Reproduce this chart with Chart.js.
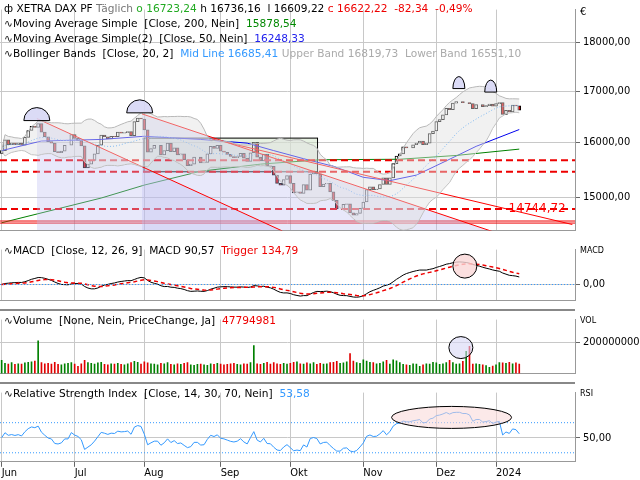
<!DOCTYPE html>
<html><head><meta charset="utf-8">
<script src="https://cdn.jsdelivr.net/npm/chart.js@4"></script>
<style>
body{margin:0;background:#fff;font-family:"DejaVu Sans",sans-serif;}
.pane{position:absolute;left:0;width:640px;}
.leg{position:absolute;left:4px;font-size:10.6px;line-height:15px;white-space:nowrap;color:#000;}
.tag{position:absolute;left:580px;font-size:8px;color:#000;}
.sep{position:absolute;left:0;width:575px;height:2px;background:#888;}
</style></head><body>
<div class="pane" style="top:0;height:240px"><canvas id="cPrice" width="640" height="240"></canvas></div>
<div class="pane" style="top:240px;height:70px"><canvas id="cMacd" width="640" height="70"></canvas></div>
<div class="pane" style="top:310px;height:73px"><canvas id="cVol" width="640" height="73"></canvas></div>
<div class="pane" style="top:383px;height:97px"><canvas id="cRsi" width="640" height="97"></canvas></div>
<div class="sep" style="top:309px"></div><div class="sep" style="top:382px"></div>
<div class="leg" style="top:1px">ф XETRA DAX PF <span style="color:#777">Täglich</span> <span style="color:#2a2">o 16723,24</span> h 16736,16 &nbsp;l 16609,22 <span style="color:#e00">c 16622,22 &nbsp;-82,34 &nbsp;-0,49%</span><br>
∿Moving Average Simple &nbsp;[Close, 200, Nein] &nbsp;<span style="color:#080">15878,54</span><br>
∿Moving Average Simple(2) &nbsp;[Close, 50, Nein] &nbsp;<span style="color:#22e">16248,33</span><br>
∿Bollinger Bands &nbsp;[Close, 20, 2] &nbsp;<span style="color:#39f">Mid Line 16685,41</span> <span style="color:#aaa">Upper Band 16819,73 &nbsp;Lower Band 16551,10</span></div>
<div class="leg" style="top:243px">∿MACD &nbsp;[Close, 12, 26, 9] &nbsp;MACD 90,57 &nbsp;<span style="color:#e00">Trigger 134,79</span></div>
<div class="leg" style="top:313px">∿Volume &nbsp;[None, Nein, PriceChange, Ja] &nbsp;<span style="color:#e00">47794981</span></div>
<div class="leg" style="top:386px">∿Relative Strength Index &nbsp;[Close, 14, 30, 70, Nein] &nbsp;<span style="color:#39f">53,58</span></div>
<div class="tag" style="top:6px;font-size:10px">€</div>
<div class="tag" style="top:246px">MACD</div>
<div class="tag" style="top:316px">VOL</div>
<div class="tag" style="top:389px">RSI</div>
<script>
// Tageskurse Jun 2023 .. Jan 2024 (Schlusskurse)
const closes = [
  15850,16050,15960,15990,15960,15990,15950,16100,16230,16310,16290,16360,16200,16110,16020,15990,15830,15810,15840,15950,15950,16150,
  16080,16040,15940,15530,15600,15670,15790,15950,16140,16110,16070,16120,16110,16200,16180,16190,16210,16130,16400,16470,16450,
  16240,15820,15890,15950,15950,15770,15850,15990,15830,15900,15770,15790,15680,15570,15600,15730,15730,15620,15630,15790,15930,15890,15950,
  15840,15820,15780,15740,15720,15740,15800,15710,15650,15810,16000,15730,15660,15780,15570,15560,15400,15250,15220,15320,15390,
  15250,15080,15100,15070,15230,15130,15420,15460,15420,15190,15240,15250,15100,14950,14800,14800,14880,14890,14730,14690,14720,14810,
  14920,15140,15190,15140,15150,15230,15350,15230,15350,15610,15750,15790,15920,15900,15900,15960,15990,16030,15960,15990,16170,16220,
  16400,16440,16530,16660,16630,16760,16790,16790,16770,16770,16750,16650,16730,16730,16690,16710,16740,16700,16750,
  16770,16540,16620,16590,16720,16705,16622
];
const firstOpen = 15800;
// Volumen in Mio.
const volumes = [
  85,65,60,70,58,62,60,68,72,75,80,210,70,62,65,60,72,58,55,62,65,70,
  60,45,62,85,70,65,60,68,72,58,55,62,60,65,58,55,62,70,78,72,60,
  75,68,62,60,55,65,62,70,58,55,62,58,65,70,55,52,58,60,55,52,62,58,65,
  60,55,58,62,65,58,55,62,60,70,180,62,58,65,72,60,70,62,58,65,60,
  65,72,75,62,60,68,62,70,58,65,60,62,70,72,78,65,68,75,128,80,70,65,
  88,80,72,70,62,65,75,85,60,88,82,70,58,55,52,62,60,45,55,62,60,72,
  68,58,62,70,85,70,60,62,78,143,175,60,62,58,55,50,40,48,55,
  70,68,65,72,62,68,60
];
const monthIdx = [0, 22, 43, 66, 87, 109, 131, 149];
const monthLabels = ['Jun', 'Jul', 'Aug', 'Sep', 'Okt', 'Nov', 'Dez', '2024'];
const priceTicks = [15000, 16000, 17000, 18000];
// SMA-Stützpunkte [Index], [Wert]
const sma50Idx = [0, 12, 30, 43, 60, 74, 82, 91, 100, 109, 117, 125, 134, 143, 156];
const sma50Val = [15850, 16030, 16060, 16120, 16060, 15990, 15850, 15700, 15560, 15360, 15300, 15400, 15660, 15930, 16248];
const sma200Idx = [0, 30, 43, 60, 78, 96, 120, 137, 156];
const sma200Val = [14560, 14990, 15220, 15470, 15600, 15680, 15690, 15760, 15878];
const hLevels = [15670, 15460, 14800];
const hSolid = [14590, 14555];
// Trendlinien [x0, y0, x1, y1]
const trendLines = [[10.6, 16460, 84.6, 14420], [42.3, 16550, 148, 14410], [63.4, 16070, 172, 14530]];
const box = [42.9, 16085, 95.2, 15460];
const peakIdx = [10.6, 41.6, 137.8, 147.4];
const peakVal = [16420, 16570, 17050, 16980];

const X_MIN = -0.5, X_MAX = 172.8;
const opens = closes.map((c, i) => i ? closes[i - 1] : firstOpen);

// Indikatoren
const bbMid = [], bbUp = [], bbLo = [];
closes.forEach((c, i) => {
  const w = closes.slice(Math.max(0, i - 19), i + 1);
  const m = w.reduce((a, b) => a + b, 0) / w.length;
  const sd = Math.sqrt(w.reduce((a, b) => a + (b - m) ** 2, 0) / w.length);
  bbMid.push({ x: i, y: m }); bbUp.push({ x: i, y: m + 2 * sd }); bbLo.push({ x: i, y: m - 2 * sd });
});
function ema(arr, n) { const k = 2 / (n + 1); let e = arr[0]; return arr.map(v => (e = v * k + e * (1 - k))); }
const e12 = ema(closes, 12), e26 = ema(closes, 26);
const macd = closes.map((_, i) => e12[i] - e26[i]);
const trig = ema(macd, 9);
const rsi = [];
let ag = 50, al = 50;
closes.forEach((c, i) => {
  if (i) {
    const d = c - closes[i - 1];
    ag = (ag * 13 + Math.max(d, 0)) / 14; al = (al * 13 + Math.max(-d, 0)) / 14;
  }
  rsi.push(100 - 100 / (1 + ag / al));
});

const tickFont = { size: 11, family: 'DejaVu Sans Condensed' };
const grid = { color: '#c8c8c8', borderDash: [1, 3], drawTicks: true, tickLength: 5, tickColor: '#666' };
const fmt = v => v.toLocaleString('de-DE', { minimumFractionDigits: 2, maximumFractionDigits: 2 }).replace(/\./g, '');
function xScale(show) {
  return {
    type: 'linear', min: X_MIN, max: X_MAX, offset: false,
    afterBuildTicks: s => { s.ticks = monthIdx.map(v => ({ value: v })); },
    grid: { ...grid, drawTicks: show, offset: false },
    border: { display: true, color: '#999' },
    ticks: { display: show, autoSkip: false, maxRotation: 0, align: 'start', padding: 0, font: tickFont, color: '#000',
      callback: v => monthLabels[monthIdx.indexOf(v)] }
  };
}
function yScale(extra) {
  return Object.assign({
    position: 'right', afterFit: s => { s.width = 65; },
    grid: grid, border: { display: true, color: '#999' }
  }, extra);
}
const yTicks = cb => ({ font: tickFont, color: '#000', padding: 3, callback: cb });

// Zeichnungen (Rechteck, Bögen, Ellipsen) über die Achsen
const shapes = {
  id: 'shapes',
  beforeDatasetsDraw(chart, a, opts) {
    const { ctx, scales: { x, y } } = chart;
    ctx.save();
    (opts.items || []).forEach(s => {
      if (s.type === 'box') {
        const x0 = x.getPixelForValue(s.b[0]), y0 = y.getPixelForValue(s.b[1]);
        const x1 = x.getPixelForValue(s.b[2]), y1 = y.getPixelForValue(s.b[3]);
        ctx.fillStyle = 'rgba(200,225,190,0.45)'; ctx.fillRect(x0, y0, x1 - x0, y1 - y0);
        ctx.strokeStyle = '#000'; ctx.lineWidth = 1; ctx.strokeRect(x0, y0, x1 - x0, y1 - y0);
      }
    });
    ctx.restore();
  },
  afterDatasetsDraw(chart, a, opts) {
    const { ctx, scales: { x, y } } = chart;
    ctx.save();
    (opts.items || []).forEach(s => {
      if (s.type === 'half' || s.type === 'ell') {
        const cx = x.getPixelForValue(s.x), cy = y.getPixelForValue(s.y);
        ctx.beginPath();
        if (s.type === 'half') ctx.ellipse(cx, cy, s.rx, s.ry, 0, Math.PI, 2 * Math.PI);
        else ctx.ellipse(cx, cy, s.rx, s.ry, 0, 0, 2 * Math.PI);
        ctx.closePath();
        ctx.fillStyle = s.fill; ctx.fill();
        ctx.strokeStyle = '#000'; ctx.lineWidth = 1; ctx.stroke();
      } else if (s.type === 'text') {
        ctx.fillStyle = '#f00'; ctx.font = '12px DejaVu Sans'; ctx.textAlign = 'right'; ctx.textBaseline = 'middle';
        ctx.fillText(s.text, x.getPixelForValue(s.x), y.getPixelForValue(s.y));
      }
    });
    ctx.restore();
  }
};
Chart.register(shapes);
Chart.defaults.animation = false;
Chart.defaults.responsive = false;
Chart.defaults.devicePixelRatio = 1;
Chart.defaults.plugins.legend.display = false;
Chart.defaults.plugins.tooltip.enabled = false;
Chart.defaults.elements.point.radius = 0;
Chart.defaults.layout.padding = 0;

const line = (data, color, extra) => Object.assign({ type: 'line', data, borderColor: color, borderWidth: 1, fill: false, tension: 0 }, extra);
const span = v => [{ x: X_MIN, y: v }, { x: X_MAX, y: v }];

// Kurs
const priceSets = [
  line(bbUp, '#b8b8b8', { fill: '+1', backgroundColor: 'rgba(225,225,225,0.45)' }),
  line(bbLo, '#b8b8b8'),
  ...trendLines.map((t, i) => line([{ x: t[0], y: t[1] }, { x: t[2], y: t[3] }], '#f00',
    i < 2 ? { fill: 'start', backgroundColor: 'rgba(190,190,240,0.35)' } : {})),
  ...hLevels.map(v => line(span(v), '#e00', { borderWidth: 2, borderDash: [7, 4] })),
  ...hSolid.map(v => line(span(v), '#e00')),
  line(bbMid, '#3399ff', { borderDash: [1, 2] }),
  line(sma200Idx.map((v, i) => ({ x: v, y: sma200Val[i] })), '#008000'),
  line(sma50Idx.map((v, i) => ({ x: v, y: sma50Val[i] })), '#0000ee'),
  { type: 'bar', data: closes.map((c, i) => ({ x: i, y: [opens[i], c] })),
    backgroundColor: closes.map((c, i) => c >= opens[i] ? '#fff' : '#e00000'),
    borderColor: '#000', borderWidth: 1, borderSkipped: false, barThickness: 3, grouped: false }
];
new Chart(document.getElementById('cPrice'), {
  data: { datasets: priceSets },
  options: {
    scales: {
      x: xScale(false),
      y: yScale({ type: 'logarithmic', min: 14430, max: 18710,
        afterBuildTicks: s => { s.ticks = priceTicks.map(v => ({ value: v })); },
        ticks: yTicks(fmt) })
    },
    plugins: { shapes: { items: [
      { type: 'box', b: box },
      ...peakIdx.map((v, i) => ({ type: 'half', x: v, y: peakVal[i], rx: i < 2 ? 13 : 6, ry: i < 2 ? 13 : 12, fill: 'rgba(215,215,245,0.9)' })),
      { type: 'text', text: '14744,72', x: 170, y: 14800 }
    ] } }
  }
});

// MACD
new Chart(document.getElementById('cMacd'), {
  data: { datasets: [
    line(span(0), '#3399ff', { borderDash: [1, 2] }),
    line(trig.map((v, i) => ({ x: i, y: v })), '#e00', { borderWidth: 1.5, borderDash: [4, 3] }),
    line(macd.map((v, i) => ({ x: i, y: v })), '#000')
  ] },
  options: {
    scales: { x: xScale(false), y: yScale({ min: -250, max: 550,
      afterBuildTicks: s => { s.ticks = [{ value: 0 }]; }, ticks: yTicks(fmt) }) },
    plugins: { shapes: { items: [{ type: 'ell', x: 139.6, y: 290, rx: 12, ry: 12, fill: 'rgba(250,215,215,0.8)' }] } }
  }
});

// Volumen
new Chart(document.getElementById('cVol'), {
  data: { datasets: [
    { type: 'bar', data: volumes.map((v, i) => ({ x: i, y: v * 1e6 })),
      backgroundColor: closes.map((c, i) => c >= opens[i] ? '#008000' : '#e00000'), barThickness: 1 }
  ] },
  options: {
    scales: { x: xScale(false), y: yScale({ min: 0, max: 348e6,
      afterBuildTicks: s => { s.ticks = [{ value: 2e8 }]; }, ticks: yTicks(v => String(v)) }) },
    plugins: { shapes: { items: [{ type: 'ell', x: 138.4, y: 167e6, rx: 12, ry: 11, fill: 'rgba(215,215,245,0.6)' }] } }
  }
});

// RSI
new Chart(document.getElementById('cRsi'), {
  data: { datasets: [
    line(span(70), '#3399ff', { borderDash: [1, 2] }),
    line(span(30), '#3399ff', { borderDash: [1, 2] }),
    line(rsi.map((v, i) => ({ x: i, y: v })), '#3399ff')
  ] },
  options: {
    scales: { x: xScale(true), y: yScale({ min: 18, max: 110,
      afterBuildTicks: s => { s.ticks = [{ value: 50 }]; }, ticks: yTicks(fmt) }) },
    plugins: { shapes: { items: [{ type: 'ell', x: 135.6, y: 77, rx: 60, ry: 11, fill: 'rgba(250,215,215,0.55)' }] } }
  }
});
</script>
</body></html>
